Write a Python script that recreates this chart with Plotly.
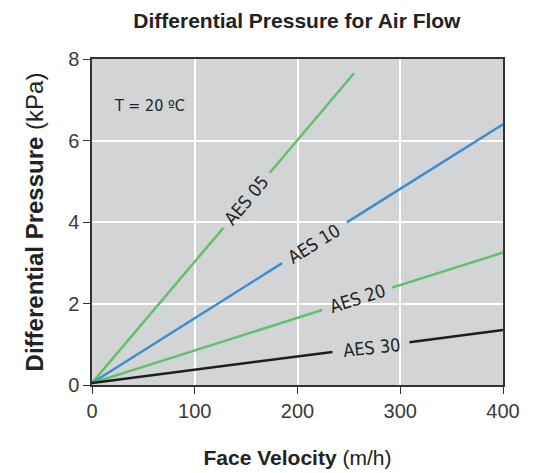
import plotly.graph_objects as go

# Face velocity (m/h) and differential pressure (kPa); None marks the gap where the label sits
aes05_v = [0, 128, None, 173, 255]
aes05_p = [0.05, 3.86, None, 5.21, 7.65]
aes10_v = [0, 185, None, 248, 400]
aes10_p = [0.05, 2.99, None, 3.99, 6.40]
aes20_v = [0, 224, None, 292, 400]
aes20_p = [0.05, 1.84, None, 2.39, 3.25]
aes30_v = [0, 234, None, 309, 400]
aes30_p = [0.05, 0.81, None, 1.05, 1.35]

labels = ["AES 05", "AES 10", "AES 20", "AES 30"]
label_v = [150, 216, 258, 272]
label_p = [4.52, 3.48, 2.12, 0.93]
label_angle = [-50, -32, -17.5, -6]

x_ticks = [0, 100, 200, 300, 400]
y_ticks = [0, 2, 4, 6, 8]

GREEN = "#62c06b"
BLUE = "#3b8ed0"
BLACK = "#1e1e1e"
COND = "Liberation Sans Narrow, Arial Narrow, DejaVu Sans Condensed, Liberation Sans, Arial"
SANS = "Liberation Sans, Arial, Helvetica"

fig = go.Figure()
for v, p, c in [(aes05_v, aes05_p, GREEN), (aes10_v, aes10_p, BLUE),
                (aes20_v, aes20_p, GREEN), (aes30_v, aes30_p, BLACK)]:
    fig.add_trace(go.Scatter(x=v, y=p, mode="lines", line=dict(color=c, width=2.5),
                             connectgaps=False, showlegend=False, hoverinfo="skip"))

label_font = dict(family=COND, size=18, color="#222")
for t, x, y, a in zip(labels, label_v, label_p, label_angle):
    fig.add_annotation(x=x, y=y, text=t, showarrow=False, textangle=a, font=label_font)

fig.add_annotation(x=56, y=6.85, text="T = 20 ºC", showarrow=False,
                   font=dict(family=COND, size=16, color="#222"))

axis_common = dict(showline=True, linecolor="#333", linewidth=1.5, mirror=True,
                   ticks="outside", ticklen=7, tickcolor="#333", tickwidth=1.2,
                   showgrid=True, gridcolor="white", gridwidth=1.5, zeroline=False,
                   tickfont=dict(family=SANS, size=20, color="#3a3a3a"))

fig.update_layout(
    width=536, height=473,
    margin=dict(l=84, r=41, t=51, b=96),
    paper_bgcolor="white", plot_bgcolor="#d3d4d6",
    title=dict(text="<b>Differential Pressure for Air Flow</b>", x=0.539, xanchor="center",
               y=0.974, yanchor="middle",
               font=dict(family=SANS, size=21, color="#222")),
    xaxis=dict(range=[0, 400], tickvals=x_ticks,
               title=dict(text="<b>Face Velocity</b> (m/h)", standoff=30,
                          font=dict(family=SANS, size=21, color="#222")),
               **axis_common),
    yaxis=dict(range=[0, 8], tickvals=y_ticks,
               title=dict(text="<b>Differential Pressure</b> (kPa)", standoff=18,
                          font=dict(family=SANS, size=24, color="#222")),
               **axis_common),
)

fig.write_html("out.html")
